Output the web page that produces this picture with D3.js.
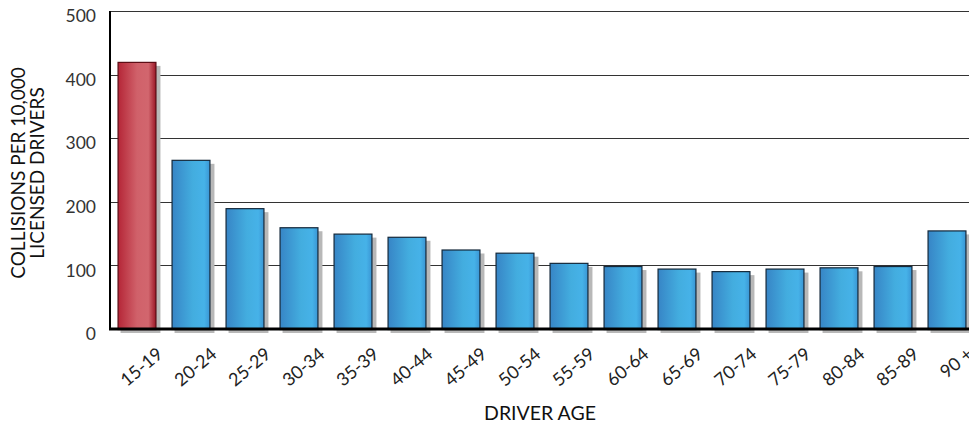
<!DOCTYPE html>
<html><head><meta charset="utf-8">
<script src="https://cdn.jsdelivr.net/npm/d3@7"></script>
<style>body{margin:0;background:#fff}svg{display:block}</style>
</head><body><svg id="c" width="969" height="427"></svg>
<script>
const categories = ["15-19","20-24","25-29","30-34","35-39","40-44","45-49","50-54","55-59","60-64","65-69","70-74","75-79","80-84","85-89","90 +"];
const values = [420,266,190,160,150,145,125,120,104,99,95,91,95,97,99,155];
const yTicks = [0,100,200,300,400,500];

(function () {
const svg = d3.select("#c");
const pL = 110, pR = 974, pT = 11, pB = 329;
const x = d3.scaleBand().domain(categories).range([pL, pR]).paddingInner(0.28).paddingOuter(0.14);
const y = d3.scaleLinear().domain([0, 500]).range([pB, pT]);
const font = "Lato, 'Open Sans', sans-serif";

const defs = svg.append("defs");
function grad(id, stops) {
  const g = defs.append("linearGradient").attr("id", id).attr("x1", "0%").attr("x2", "100%").attr("y1", "0%").attr("y2", "0%");
  stops.forEach(s => g.append("stop").attr("offset", s[0]).attr("stop-color", s[1]));
}
grad("gBlue", [["0%", "#3785c6"], ["55%", "#43addf"], ["85%", "#46b2e8"], ["100%", "#3a95d4"]]);
grad("gRed", [["0%", "#b52637"], ["50%", "#d0616a"], ["80%", "#d2666e"], ["100%", "#9a1626"]]);

// grid
svg.append("g").selectAll("line").data(yTicks.filter(d => d > 0)).join("line")
  .attr("x1", pL).attr("x2", 969).attr("y1", d => Math.round(y(d)) + 0.5).attr("y2", d => Math.round(y(d)) + 0.5)
  .attr("stroke", "#333").attr("stroke-width", 1);

// shadows
svg.append("g").selectAll("rect").data(categories).join("rect")
  .attr("x", d => x(d) + 3).attr("y", (d, i) => y(values[i]) + 4)
  .attr("width", x.bandwidth() + 1).attr("height", (d, i) => pB - y(values[i]))
  .attr("fill", "#b8b8b8");

// bars
svg.append("g").selectAll("rect").data(categories).join("rect")
  .attr("x", d => x(d) + 0.5).attr("y", (d, i) => y(values[i]) + 0.5)
  .attr("width", x.bandwidth() - 1).attr("height", (d, i) => pB - y(values[i]))
  .attr("fill", (d, i) => i === 0 ? "url(#gRed)" : "url(#gBlue)")
  .attr("stroke", (d, i) => i === 0 ? "#5a0c14" : "#14283a").attr("stroke-width", 1.2);

// axes lines
svg.append("line").attr("x1", pL).attr("x2", pL).attr("y1", pT).attr("y2", pB + 1)
  .attr("stroke", "#000").attr("stroke-width", 2);
svg.append("line").attr("x1", pL - 1).attr("x2", 969).attr("y1", pB).attr("y2", pB)
  .attr("stroke", "#000").attr("stroke-width", 3);

// y tick labels
const yAxis = d3.axisLeft(y).tickValues(yTicks).tickSize(0).tickPadding(14);
const ya = svg.append("g").attr("transform", `translate(${pL},5)`).call(yAxis);
ya.select(".domain").remove();
ya.selectAll("text").attr("font-family", font).attr("font-size", 17.5).attr("fill", "#333");

// x tick labels
const xa = svg.append("g").attr("transform", `translate(0,${pB})`).call(d3.axisBottom(x).tickSize(0).tickFormat(d => d));
xa.select(".domain").remove();
xa.selectAll("text")
  .attr("font-family", font).attr("font-size", 18).attr("fill", "#222")
  .attr("text-anchor", "end")
  .attr("transform", "translate(27,27) rotate(-40)")
  .attr("x", 0).attr("y", 0).attr("dy", "0");

// axis titles
svg.append("text").attr("x", (pL + pR) / 2 - 2).attr("y", 420).attr("text-anchor", "middle")
  .attr("font-family", font).attr("font-size", 19.5).attr("fill", "#111").text("DRIVER AGE");
const yt = svg.append("text").attr("transform", "translate(0,173) rotate(-90)").attr("text-anchor", "middle")
  .attr("font-family", font).attr("font-size", 19).attr("fill", "#111");
yt.append("tspan").attr("x", 0).attr("y", 25).text("COLLISIONS PER 10,000");
yt.append("tspan").attr("x", 0).attr("y", 44).text("LICENSED DRIVERS");
})();
</script></body></html>
